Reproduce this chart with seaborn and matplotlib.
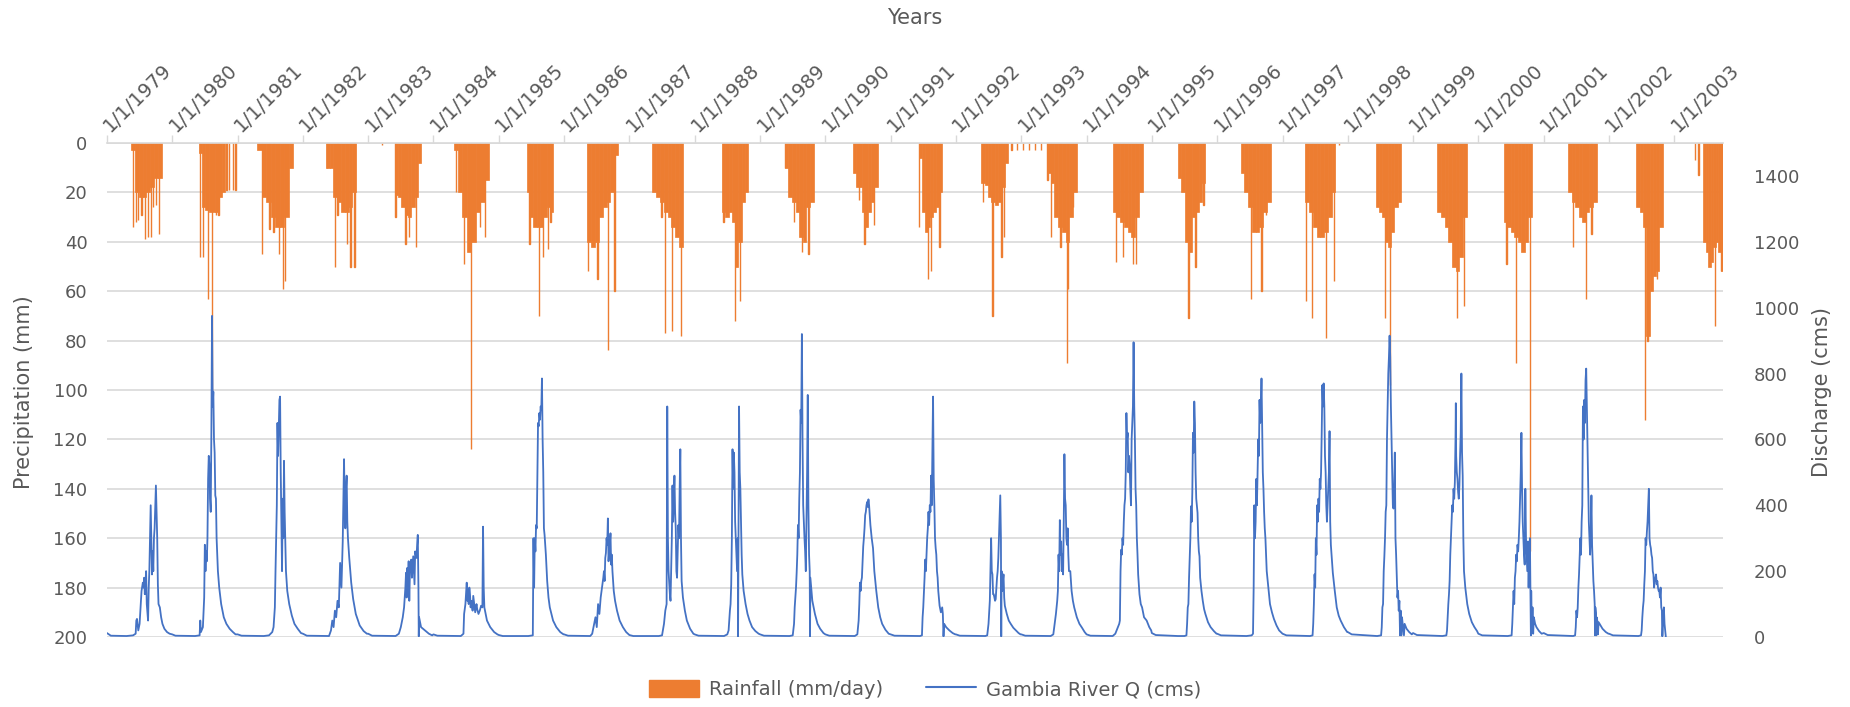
import numpy as np
import pandas as pd
import matplotlib
matplotlib.use("Agg")
import matplotlib.pyplot as plt
import matplotlib.dates as mdates
from matplotlib.patches import Patch
from matplotlib.lines import Line2D
import seaborn as sns

# ---------------------------------------------------------------- data
years = list(range(1979, 2004))

# rainy-season window of each year, as fraction of the year
rain_onset = [0.372, 0.405, 0.30, 0.35, 0.41, 0.31, 0.43, 0.35, 0.35, 0.42,
              0.38, 0.42, 0.43, 0.39, 0.39, 0.40, 0.40, 0.36, 0.35, 0.43,
              0.37, 0.39, 0.37, 0.42, 0.44]
rain_end = [0.837, 0.813, 0.85, 0.815, 0.81, 0.85, 0.83, 0.83, 0.82, 0.82,
            0.82, 0.80, 0.79, 0.80, 0.85, 0.86, 0.82, 0.82, 0.81, 0.81,
            0.82, 0.82, 0.81, 0.82, 0.75]

# typical daily rainfall (mm) through each season, eight steps per season
rain_body = [
    [3, 20, 22, 22, 20, 18, 14, 14],
    [4, 26, 27, 28, 28, 28, 22, 20],
    [3, 22, 24, 30, 34, 34, 30, 10],
    [10, 10, 22, 24, 28, 28, 26, 20],
    [21, 22, 26, 29, 30, 26, 22, 8],
    [3, 20, 30, 44, 40, 28, 24, 15],
    [20, 30, 34, 34, 34, 30, 26, 28],
    [40, 42, 40, 30, 26, 24, 20, 5],
    [20, 22, 24, 28, 30, 34, 38, 42],
    [28, 30, 28, 32, 50, 40, 24, 20],
    [10, 22, 24, 28, 38, 40, 26, 24],
    [12, 18, 18, 28, 34, 28, 24, 18],
    [6, 28, 36, 34, 30, 28, 26, 20],
    [16, 17, 22, 24, 25, 24, 18, 8],
    [12, 16, 30, 34, 36, 40, 30, 20],
    [28, 30, 32, 34, 36, 38, 30, 20],
    [14, 20, 40, 44, 30, 28, 24, 16],
    [12, 20, 26, 36, 36, 34, 28, 24],
    [24, 28, 34, 38, 38, 36, 30, 20],
    [26, 28, 30, 40, 42, 36, 26, 24],
    [28, 30, 34, 40, 50, 52, 46, 30],
    [32, 34, 36, 38, 40, 44, 40, 30],
    [20, 24, 26, 30, 32, 28, 26, 24],
    [26, 28, 34, 78, 60, 54, 52, 34],
    [40, 44, 50, 48, 42, 40, 44, 52],
]

# storm days (time in decimal years, rainfall in mm)
storm_time = [
    1979.40, 1979.45, 1979.48, 1979.53, 1979.58, 1979.63, 1979.67, 1979.71, 1979.75, 1979.80,
    1980.43, 1980.47, 1980.55, 1980.61, 1980.67, 1980.71, 1980.83, 1980.87, 1980.93, 1980.97,
    1981.37, 1981.49, 1981.55, 1981.63, 1981.69, 1981.73,
    1982.37, 1982.49, 1982.53, 1982.67, 1982.73, 1982.79,
    1983.21, 1983.42, 1983.57, 1983.63, 1983.73,
    1984.35, 1984.47, 1984.57, 1984.71, 1984.79,
    1985.47, 1985.62, 1985.68, 1985.75, 1985.79,
    1986.37, 1986.51, 1986.67, 1986.77,
    1987.49, 1987.55, 1987.65, 1987.79,
    1988.44, 1988.62, 1988.70,
    1989.38, 1989.52, 1989.64, 1989.74,
    1990.51, 1990.60, 1990.75,
    1991.43, 1991.57, 1991.62, 1991.75,
    1992.42, 1992.56, 1992.70, 1992.74, 1992.85, 1992.94,
    1993.03, 1993.12, 1993.21, 1993.30, 1993.40, 1993.46, 1993.60, 1993.70, 1993.72, 1993.79,
    1994.45, 1994.56, 1994.71, 1994.76,
    1995.56, 1995.67, 1995.79,
    1996.52, 1996.68, 1996.75,
    1997.36, 1997.45, 1997.67, 1997.79, 1997.87,
    1998.57, 1998.65,
    1999.67, 1999.78,
    2000.43, 2000.58, 2000.79,
    2001.45, 2001.65, 2001.73,
    2002.55, 2002.59, 2002.74,
    2003.32, 2003.37, 2003.62, 2003.72,
]
storm_mm = [
    34, 32, 31, 29, 39, 38, 38, 26, 25, 37,
    46, 46, 63, 100, 29, 29, 19, 19, 19, 19,
    45, 35, 36, 45, 59, 56,
    10, 50, 29, 41, 50, 50,
    1, 30, 41, 38, 42,
    20, 49, 124, 34, 38,
    41, 70, 46, 43, 32,
    52, 55, 84, 60,
    30, 77, 76, 78,
    32, 72, 64,
    10, 32, 44, 45,
    23, 41, 33,
    34, 55, 52, 42,
    24, 70, 46, 38, 3, 3,
    3, 3, 3, 3, 15, 38, 42, 89, 59, 26,
    48, 46, 49, 49,
    71, 50, 25,
    63, 60, 29,
    64, 71, 79, 56, 1,
    71, 98,
    71, 66,
    49, 89, 165,
    42, 63, 37,
    112, 80, 55,
    7, 13, 74, 52,
]

# Gambia River discharge (cms), points per year: fraction of year, flow
flow_frac = [
    [0.00, 0.03, 0.06, 0.30, 0.40, 0.44, 0.45, 0.46, 0.48, 0.50, 0.53, 0.55, 0.56, 0.57, 0.58, 0.60, 0.61, 0.63, 0.64, 0.65, 0.67, 0.68, 0.69, 0.70, 0.71, 0.72, 0.73, 0.75, 0.76, 0.77, 0.78, 0.79, 0.81, 0.83, 0.85, 0.88, 0.92, 0.96],
    [0.00, 0.05, 0.35, 0.42, 0.43, 0.44, 0.47, 0.49, 0.50, 0.51, 0.52, 0.53, 0.54, 0.55, 0.56, 0.57, 0.58, 0.59, 0.60, 0.61, 0.62, 0.63, 0.64, 0.65, 0.66, 0.67, 0.68, 0.70, 0.72, 0.75, 0.79, 0.83, 0.88, 0.93, 0.97],
    [0.00, 0.06, 0.40, 0.48, 0.53, 0.55, 0.57, 0.58, 0.60, 0.61, 0.62, 0.64, 0.65, 0.66, 0.67, 0.68, 0.69, 0.70, 0.71, 0.72, 0.73, 0.74, 0.76, 0.79, 0.83, 0.87, 0.92, 0.97],
    [0.00, 0.06, 0.40, 0.43, 0.45, 0.47, 0.49, 0.51, 0.53, 0.55, 0.57, 0.59, 0.61, 0.63, 0.64, 0.65, 0.66, 0.67, 0.68, 0.69, 0.71, 0.74, 0.77, 0.81, 0.87, 0.93, 0.98],
    [0.00, 0.06, 0.42, 0.47, 0.50, 0.53, 0.55, 0.57, 0.58, 0.59, 0.60, 0.61, 0.62, 0.63, 0.64, 0.66, 0.67, 0.69, 0.70, 0.71, 0.72, 0.74, 0.75, 0.76, 0.77, 0.775, 0.78, 0.81, 0.87, 0.93, 0.98],
    [0.00, 0.06, 0.42, 0.46, 0.47, 0.49, 0.50, 0.51, 0.52, 0.53, 0.54, 0.55, 0.56, 0.57, 0.58, 0.60, 0.61, 0.63, 0.64, 0.66, 0.67, 0.69, 0.71, 0.73, 0.75, 0.76, 0.77, 0.78, 0.80, 0.82, 0.87, 0.93, 0.98],
    [0.00, 0.06, 0.45, 0.52, 0.53, 0.54, 0.55, 0.56, 0.57, 0.58, 0.59, 0.60, 0.61, 0.62, 0.63, 0.64, 0.65, 0.66, 0.67, 0.68, 0.69, 0.70, 0.71, 0.72, 0.74, 0.76, 0.78, 0.83, 0.88, 0.94, 0.99],
    [0.00, 0.06, 0.40, 0.43, 0.46, 0.48, 0.50, 0.52, 0.54, 0.56, 0.58, 0.60, 0.61, 0.62, 0.63, 0.64, 0.65, 0.66, 0.67, 0.68, 0.69, 0.70, 0.71, 0.72, 0.73, 0.74, 0.76, 0.78, 0.81, 0.85, 0.90, 0.95, 0.99],
    [0.00, 0.06, 0.45, 0.50, 0.53, 0.55, 0.57, 0.58, 0.59, 0.60, 0.62, 0.63, 0.64, 0.65, 0.66, 0.67, 0.68, 0.69, 0.70, 0.71, 0.72, 0.73, 0.74, 0.75, 0.76, 0.77, 0.78, 0.79, 0.80, 0.82, 0.85, 0.88, 0.93, 0.98],
    [0.00, 0.06, 0.45, 0.50, 0.52, 0.54, 0.55, 0.56, 0.57, 0.58, 0.59, 0.60, 0.61, 0.62, 0.63, 0.64, 0.65, 0.66, 0.665, 0.67, 0.68, 0.69, 0.70, 0.71, 0.72, 0.73, 0.75, 0.78, 0.81, 0.84, 0.88, 0.93, 0.98],
    [0.00, 0.06, 0.45, 0.50, 0.52, 0.53, 0.55, 0.56, 0.57, 0.58, 0.59, 0.60, 0.61, 0.62, 0.63, 0.64, 0.65, 0.66, 0.67, 0.68, 0.69, 0.70, 0.71, 0.72, 0.73, 0.74, 0.75, 0.76, 0.765, 0.77, 0.80, 0.84, 0.88, 0.92, 0.97],
    [0.00, 0.06, 0.45, 0.49, 0.51, 0.52, 0.53, 0.54, 0.55, 0.56, 0.57, 0.58, 0.59, 0.60, 0.61, 0.62, 0.63, 0.64, 0.65, 0.66, 0.67, 0.68, 0.69, 0.70, 0.71, 0.73, 0.75, 0.78, 0.81, 0.84, 0.87, 0.92, 0.97],
    [0.00, 0.06, 0.45, 0.48, 0.49, 0.50, 0.52, 0.53, 0.54, 0.55, 0.56, 0.57, 0.58, 0.59, 0.60, 0.61, 0.62, 0.63, 0.64, 0.65, 0.66, 0.67, 0.68, 0.69, 0.70, 0.71, 0.72, 0.73, 0.75, 0.77, 0.79, 0.80, 0.81, 0.82, 0.85, 0.90, 0.95, 0.99],
    [0.00, 0.06, 0.45, 0.48, 0.50, 0.52, 0.53, 0.54, 0.55, 0.56, 0.57, 0.58, 0.60, 0.61, 0.62, 0.63, 0.64, 0.65, 0.66, 0.67, 0.68, 0.69, 0.695, 0.70, 0.71, 0.72, 0.73, 0.74, 0.75, 0.78, 0.81, 0.84, 0.88, 0.92, 0.96, 0.99],
    [0.00, 0.06, 0.45, 0.49, 0.51, 0.53, 0.55, 0.56, 0.57, 0.58, 0.59, 0.60, 0.61, 0.62, 0.63, 0.64, 0.65, 0.66, 0.67, 0.68, 0.69, 0.70, 0.71, 0.72, 0.73, 0.75, 0.77, 0.79, 0.81, 0.85, 0.89, 0.93, 0.97],
    [0.00, 0.06, 0.40, 0.44, 0.47, 0.50, 0.51, 0.52, 0.53, 0.54, 0.55, 0.56, 0.57, 0.58, 0.59, 0.60, 0.61, 0.62, 0.63, 0.64, 0.65, 0.66, 0.67, 0.68, 0.69, 0.70, 0.71, 0.72, 0.73, 0.74, 0.75, 0.76, 0.77, 0.78, 0.79, 0.81, 0.83, 0.85, 0.88, 0.92, 0.96, 0.99],
    [0.00, 0.06, 0.40, 0.50, 0.53, 0.54, 0.55, 0.56, 0.57, 0.58, 0.59, 0.60, 0.61, 0.62, 0.63, 0.64, 0.65, 0.66, 0.67, 0.68, 0.69, 0.70, 0.71, 0.72, 0.73, 0.74, 0.76, 0.78, 0.80, 0.82, 0.86, 0.90, 0.95, 0.99],
    [0.00, 0.06, 0.45, 0.53, 0.55, 0.56, 0.57, 0.58, 0.59, 0.60, 0.61, 0.62, 0.63, 0.64, 0.65, 0.66, 0.67, 0.68, 0.69, 0.70, 0.71, 0.72, 0.73, 0.74, 0.76, 0.78, 0.81, 0.84, 0.87, 0.91, 0.95, 0.99],
    [0.00, 0.06, 0.42, 0.46, 0.47, 0.48, 0.49, 0.50, 0.51, 0.52, 0.53, 0.54, 0.55, 0.56, 0.57, 0.58, 0.59, 0.60, 0.61, 0.62, 0.63, 0.64, 0.65, 0.66, 0.67, 0.68, 0.69, 0.70, 0.71, 0.72, 0.73, 0.74, 0.75, 0.77, 0.80, 0.83, 0.86, 0.89, 0.94, 0.99],
    [0.00, 0.06, 0.45, 0.51, 0.52, 0.53, 0.54, 0.55, 0.56, 0.57, 0.58, 0.59, 0.60, 0.61, 0.62, 0.63, 0.64, 0.65, 0.66, 0.67, 0.68, 0.69, 0.70, 0.71, 0.72, 0.73, 0.74, 0.75, 0.76, 0.77, 0.78, 0.79, 0.80, 0.81, 0.82, 0.83, 0.84, 0.86, 0.87, 0.90, 0.94, 0.98],
    [0.00, 0.06, 0.45, 0.51, 0.52, 0.53, 0.54, 0.55, 0.56, 0.57, 0.58, 0.59, 0.60, 0.61, 0.62, 0.63, 0.64, 0.65, 0.655, 0.66, 0.67, 0.68, 0.69, 0.70, 0.71, 0.72, 0.73, 0.74, 0.75, 0.76, 0.77, 0.78, 0.80, 0.83, 0.86, 0.90, 0.94, 0.98],
    [0.00, 0.06, 0.45, 0.51, 0.52, 0.53, 0.54, 0.55, 0.56, 0.57, 0.58, 0.59, 0.60, 0.61, 0.62, 0.63, 0.64, 0.65, 0.66, 0.67, 0.68, 0.69, 0.70, 0.71, 0.72, 0.73, 0.74, 0.75, 0.76, 0.77, 0.78, 0.79, 0.80, 0.805, 0.81, 0.82, 0.83, 0.84, 0.85, 0.87, 0.89, 0.93, 0.97],
    [0.00, 0.06, 0.45, 0.48, 0.49, 0.50, 0.51, 0.52, 0.53, 0.54, 0.55, 0.56, 0.57, 0.58, 0.59, 0.60, 0.61, 0.62, 0.63, 0.64, 0.65, 0.66, 0.67, 0.68, 0.69, 0.70, 0.71, 0.72, 0.73, 0.74, 0.75, 0.76, 0.77, 0.78, 0.785, 0.79, 0.80, 0.805, 0.81, 0.82, 0.83, 0.84, 0.87, 0.90, 0.95, 0.99],
    [0.00, 0.06, 0.45, 0.49, 0.50, 0.51, 0.52, 0.53, 0.54, 0.55, 0.56, 0.57, 0.58, 0.59, 0.60, 0.61, 0.62, 0.63, 0.64, 0.65, 0.66, 0.67, 0.68, 0.69, 0.70, 0.71, 0.72, 0.73, 0.74, 0.75, 0.76, 0.77, 0.78, 0.79, 0.80, 0.81, 0.815, 0.82, 0.83, 0.84, 0.85, 0.86, 0.87],
]
flow_cms = [
    [12, 8, 4, 3, 5, 10, 50, 55, 20, 40, 140, 165, 150, 180, 130, 200, 100, 50, 150, 205, 400, 300, 190, 260, 200, 300, 330, 460, 380, 300, 160, 100, 90, 60, 40, 25, 15, 10],
    [8, 4, 3, 5, 50, 15, 30, 120, 280, 200, 260, 230, 300, 480, 550, 520, 420, 380, 620, 975, 700, 745, 600, 560, 430, 420, 300, 200, 150, 100, 60, 40, 25, 15, 8],
    [8, 4, 3, 5, 15, 30, 90, 200, 400, 650, 550, 720, 730, 500, 350, 200, 420, 300, 535, 380, 290, 200, 140, 100, 65, 40, 25, 12],
    [10, 4, 3, 20, 50, 30, 80, 60, 110, 90, 225, 150, 290, 540, 400, 330, 450, 490, 350, 300, 240, 165, 115, 70, 35, 18, 10],
    [10, 4, 3, 10, 30, 60, 90, 150, 195, 120, 210, 160, 230, 110, 200, 235, 180, 245, 200, 160, 260, 240, 280, 310, 150, 2, 60, 30, 20, 10, 5],
    [8, 4, 3, 10, 70, 100, 130, 165, 110, 140, 100, 150, 130, 90, 110, 80, 125, 90, 75, 100, 85, 70, 80, 95, 90, 335, 150, 90, 70, 50, 30, 15, 8],
    [6, 3, 3, 5, 300, 150, 300, 260, 340, 330, 500, 650, 640, 680, 660, 700, 690, 785, 600, 500, 330, 310, 280, 250, 170, 120, 90, 50, 30, 15, 8],
    [8, 4, 3, 10, 40, 60, 30, 100, 70, 120, 150, 180, 200, 170, 240, 255, 300, 280, 360, 230, 260, 280, 315, 220, 250, 200, 140, 110, 80, 50, 30, 15, 8],
    [6, 3, 3, 5, 40, 80, 100, 700, 300, 200, 130, 110, 200, 300, 460, 350, 420, 490, 380, 330, 200, 180, 260, 340, 300, 450, 570, 300, 170, 120, 80, 50, 25, 10],
    [8, 4, 3, 8, 20, 80, 100, 160, 300, 570, 450, 560, 500, 350, 300, 250, 200, 300, 2, 250, 700, 500, 450, 350, 250, 190, 140, 100, 70, 50, 30, 18, 10],
    [8, 4, 3, 5, 40, 90, 150, 195, 250, 340, 300, 420, 500, 690, 650, 920, 600, 400, 350, 300, 260, 200, 350, 500, 735, 400, 250, 200, 2, 180, 110, 70, 40, 25, 12],
    [8, 4, 3, 8, 50, 100, 165, 140, 170, 180, 230, 275, 300, 330, 370, 380, 400, 410, 395, 418, 400, 370, 340, 320, 300, 270, 200, 140, 90, 60, 40, 22, 10],
    [8, 4, 3, 5, 60, 90, 180, 235, 200, 250, 300, 330, 380, 340, 400, 380, 490, 400, 560, 730, 480, 400, 300, 270, 250, 200, 180, 140, 95, 75, 90, 70, 2, 40, 30, 20, 12, 8],
    [8, 4, 3, 5, 40, 110, 200, 300, 200, 190, 130, 130, 110, 115, 150, 180, 200, 240, 300, 350, 430, 300, 2, 200, 140, 170, 190, 120, 95, 70, 50, 40, 28, 20, 12, 8],
    [8, 4, 3, 8, 40, 70, 110, 140, 250, 200, 355, 250, 290, 200, 250, 190, 350, 555, 420, 400, 300, 280, 330, 250, 200, 200, 140, 110, 90, 60, 40, 28, 15],
    [8, 4, 3, 10, 25, 40, 50, 200, 265, 250, 300, 280, 350, 400, 420, 500, 680, 600, 620, 500, 550, 520, 450, 400, 600, 650, 700, 895, 700, 600, 450, 400, 300, 250, 190, 130, 100, 90, 60, 50, 30, 20],
    [12, 6, 3, 3, 5, 40, 90, 100, 180, 245, 300, 397, 350, 440, 620, 560, 715, 650, 500, 420, 400, 377, 300, 260, 245, 180, 140, 110, 85, 70, 45, 30, 18, 10],
    [10, 5, 3, 5, 10, 150, 400, 300, 350, 480, 400, 500, 600, 550, 720, 650, 700, 785, 650, 500, 450, 380, 330, 300, 200, 160, 100, 75, 55, 35, 20, 12],
    [10, 5, 3, 5, 40, 100, 190, 150, 300, 250, 400, 350, 420, 380, 480, 450, 500, 620, 765, 700, 770, 700, 550, 500, 400, 350, 400, 450, 500, 625, 350, 280, 250, 195, 140, 90, 65, 50, 30, 15],
    [15, 8, 3, 5, 30, 90, 100, 200, 245, 300, 380, 400, 600, 700, 800, 850, 915, 850, 700, 600, 500, 400, 390, 450, 560, 300, 250, 180, 120, 140, 80, 110, 5, 80, 5, 60, 40, 5, 40, 25, 15, 8],
    [12, 6, 3, 5, 20, 60, 100, 130, 170, 250, 300, 350, 400, 380, 450, 420, 470, 600, 710, 550, 500, 480, 440, 420, 460, 550, 620, 800, 560, 490, 300, 200, 150, 100, 70, 45, 30, 18],
    [10, 5, 3, 5, 40, 90, 140, 100, 180, 200, 250, 230, 280, 260, 300, 350, 420, 500, 620, 450, 350, 300, 250, 220, 450, 300, 250, 200, 290, 150, 250, 300, 120, 5, 140, 20, 90, 10, 60, 40, 30, 18, 10],
    [12, 6, 3, 5, 30, 80, 60, 90, 150, 190, 250, 300, 250, 350, 400, 700, 600, 720, 650, 780, 815, 700, 600, 480, 350, 300, 250, 320, 430, 280, 220, 170, 140, 100, 5, 90, 70, 5, 60, 50, 8, 45, 35, 25, 15, 10],
    [10, 5, 3, 5, 20, 60, 90, 110, 160, 200, 300, 280, 320, 350, 400, 450, 300, 280, 270, 250, 240, 200, 190, 150, 170, 180, 190, 160, 170, 150, 140, 140, 120, 150, 90, 80, 2, 5, 60, 90, 40, 20, 0],
]

# ---------------------------------------------------------------- styling
ORANGE = "#ED7D31"
BLUE = "#4472C4"
GRID = "#D9D9D9"
TEXT = "#595959"

sns.set_theme(style="white")
plt.rcParams["font.family"] = ["DejaVu Sans"]
plt.rcParams["text.color"] = TEXT
plt.rcParams["axes.labelcolor"] = TEXT
plt.rcParams["xtick.color"] = TEXT
plt.rcParams["ytick.color"] = TEXT


def to_num(year, frac):
    stamp = pd.Timestamp(year=year, month=1, day=1) + pd.Timedelta(days=frac * 365.25)
    return mdates.date2num(stamp)


fig = plt.figure(figsize=(18.5, 7.07), dpi=100)
ax = fig.add_axes([0.0578, 0.099, 0.8736, 0.6987])
ax2 = ax.twinx()

# ---------------------------------------------------------------- rainfall bars
body_x, body_w, body_h = [], [], []
for yr, a, b, depths in zip(years, rain_onset, rain_end, rain_body):
    n = len(depths)
    step = (b - a) / n
    for i, d in enumerate(depths):
        body_x.append(to_num(yr, a + i * step))
        body_w.append(step * 365.25)
        body_h.append(d)
ax.bar(body_x, body_h, width=body_w, align="edge", color=ORANGE,
       edgecolor=ORANGE, linewidth=0.5, zorder=2)

storm_x = [to_num(int(t), t - int(t)) for t in storm_time]
ax.bar(storm_x, storm_mm, width=1.5, align="center", color=ORANGE,
       edgecolor=ORANGE, linewidth=1.0, zorder=2)

# ---------------------------------------------------------------- discharge line
flow_x, flow_y = [], []
for yr, fr, q in zip(years, flow_frac, flow_cms):
    for f, v in zip(fr, q):
        flow_x.append(pd.Timestamp(year=yr, month=1, day=1) + pd.Timedelta(days=f * 365.25))
        flow_y.append(v)
flow = pd.DataFrame({"date": flow_x, "cms": flow_y})
sns.lineplot(data=flow, x="date", y="cms", ax=ax2, color=BLUE, linewidth=1.3,
             sort=False, estimator=None, legend=False)

# ---------------------------------------------------------------- axes
x0 = mdates.date2num(pd.Timestamp("1979-01-01"))
x1 = mdates.date2num(pd.Timestamp("2003-10-01"))
ax.set_xlim(x0, x1)
ax2.set_xlim(x0, x1)

ax.set_ylim(200, 0)
ax.set_yticks(np.arange(0, 201, 20))
ax2.set_ylim(0, 1500)
ax2.set_yticks(np.arange(0, 1401, 200))

ax.yaxis.grid(True, color=GRID, linewidth=1.2, zorder=0)
ax.set_axisbelow(True)
ax.xaxis.grid(False)
ax2.grid(False)

for a in (ax, ax2):
    for side in ("left", "right", "bottom"):
        a.spines[side].set_visible(False)
ax2.spines["top"].set_visible(False)
ax.spines["top"].set_color(GRID)
ax.spines["top"].set_linewidth(1.2)

ax.xaxis.set_major_locator(mdates.YearLocator())
ax.xaxis.set_major_formatter(
    plt.FuncFormatter(lambda v, pos: (lambda d: f"{d.month}/{d.day}/{d.year}")(mdates.num2date(v))))
ax.xaxis.set_ticks_position("top")
ax.xaxis.set_label_position("top")
ax.tick_params(axis="x", which="major", direction="out", length=6, width=1.0,
               color=GRID, labelsize=14, pad=4, labelcolor=TEXT)
for lbl in ax.get_xticklabels():
    lbl.set_rotation(45)
    lbl.set_ha("left")
    lbl.set_va("center")
    lbl.set_rotation_mode("anchor")
ax2.tick_params(axis="x", which="both", top=False, bottom=False,
                labeltop=False, labelbottom=False)

ax.tick_params(axis="y", length=0, labelsize=13, pad=14)
ax2.tick_params(axis="y", length=0, labelsize=13, pad=22)
ax.set_xlabel("")
ax.set_ylabel("")
ax2.set_xlabel("")
ax2.set_ylabel("")

fig.text(0.4946, 0.975, "Years", ha="center", va="center", fontsize=15, color=TEXT)
fig.text(0.013, 0.445, "Precipitation (mm)", ha="center", va="center",
         rotation=90, fontsize=15, color=TEXT)
fig.text(0.985, 0.445, "Discharge (cms)", ha="center", va="center",
         rotation=90, fontsize=15, color=TEXT)

handles = [Patch(facecolor=ORANGE, edgecolor=ORANGE),
           Line2D([0], [0], color=BLUE, linewidth=1.5)]
fig.legend(handles, ["Rainfall (mm/day)", "Gambia River Q (cms)"],
           loc="center", bbox_to_anchor=(0.5, 0.025), ncol=2, frameon=False,
           fontsize=14, handlelength=2.6, handleheight=1.0,
           handletextpad=0.5, columnspacing=2.2)

fig.savefig("out.png", dpi=100)
